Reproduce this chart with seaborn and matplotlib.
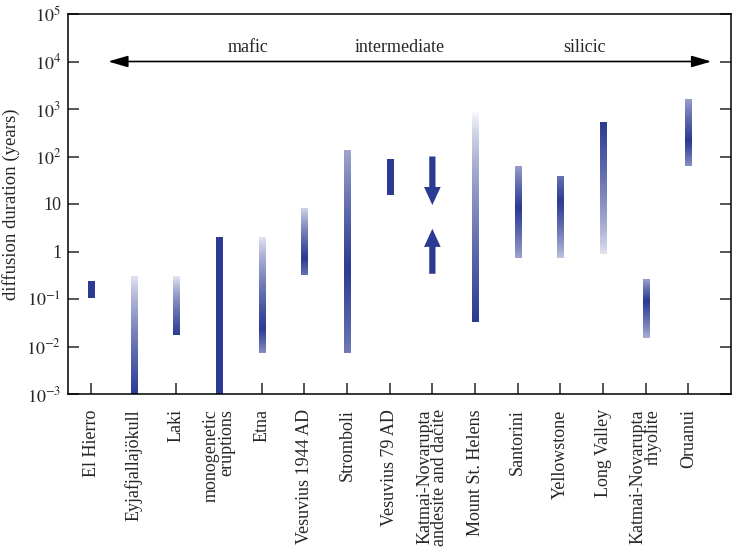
import numpy as np
import pandas as pd
import seaborn as sns
import matplotlib.pyplot as plt
from matplotlib.collections import LineCollection
from matplotlib.colors import to_rgb

# volcano / eruption categories (left to right)
volcanoes = [
    "El Hierro", "Eyjafjallajökull", "Laki", "monogenetic\neruptions", "Etna",
    "Vesuvius 1944 AD", "Stromboli", "Vesuvius 79 AD",
    "Katmai-Novarupta\nandesite and dacite", "Mount St. Helens", "Santorini",
    "Yellowstone", "Long Valley", "Katmai-Novarupta\nrhyolite", "Oruanui",
]
# diffusion duration range (years); nan = shown as arrows instead
dur_low = [0.11, 0.001, 0.018, 0.001, 0.0075, 0.34, 0.0075, 16, np.nan,
           0.035, 0.75, 0.75, 0.95, 0.016, 66]
dur_high = [0.24, 0.3, 0.3, 2.0, 2.0, 8.2, 135, 89, np.nan,
            870, 63, 39, 530, 0.26, 1600]
# where the bar is darkest, and shading at the two ends (0 = white, 1 = full)
dur_peak = [0.15, 0.001, 0.018, 0.03, 0.025, 0.76, 0.47, 40, np.nan,
            0.035, 8.7, 12, 530, 0.095, 223]
shade_low = [1, 1, 1, 1, 0.4, 0.6, 0.55, 1, np.nan,
             1, 0.3, 0.15, 0.05, 0.25, 0.4]
shade_high = [1, 0.05, 0.05, 1, 0.05, 0.1, 0.3, 1, np.nan,
              0.0, 0.35, 0.6, 0.95, 0.35, 0.35]
# Katmai-Novarupta andesite/dacite: upper bound arrow (down) and lower bound arrow (up)
katmai_down = (100, 9.5)
katmai_up = (0.34, 3.0)

df = pd.DataFrame({"volcano": volcanoes, "low": dur_low, "high": dur_high,
                   "peak": dur_peak, "s_low": shade_low, "s_high": shade_high})

sns.set_theme(style="ticks")
plt.rcParams["font.family"] = ["Liberation Serif", "DejaVu Serif"]
plt.rcParams["mathtext.fontset"] = "stix"

dark = np.array(to_rgb("#2b3a92"))
white = np.ones(3)

fig = plt.figure(figsize=(7.33, 5.55), dpi=100)
ax = fig.add_axes([68 / 733, 1 - 394 / 555, 663 / 733, 380 / 555])
ax.set_yscale("log")
ax.set_ylim(1e-3, 1e5)
ax.set_xlim(-0.54, 15.0)

n = 120
for i, row in df.iterrows():
    if np.isnan(row["low"]):
        continue
    lo, hi, pk = np.log10(row["low"]), np.log10(row["high"]), np.log10(row["peak"])
    edges = np.linspace(lo, hi, n + 1)
    step = edges[1] - edges[0]
    mids = 0.5 * (edges[:-1] + edges[1:])
    t = np.interp(mids, [lo, pk, hi], [row["s_low"], 1.0, row["s_high"]]) ** 0.65
    cols = white[None, :] * (1 - t[:, None]) + dark[None, :] * t[:, None]
    segs = [[(i, 10 ** a), (i, 10 ** min(b + 0.5 * step, hi))]
            for a, b in zip(edges[:-1], edges[1:])]
    ax.add_collection(LineCollection(segs, colors=cols, linewidths=5.0,
                                     capstyle="butt", antialiaseds=False))

k = volcanoes.index("Katmai-Novarupta\nandesite and dacite")
arrow_style = "simple,head_length=1.3,head_width=1.2,tail_width=0.45"
for start, end in (katmai_down, katmai_up):
    ax.annotate("", xy=(k, end), xytext=(k, start),
                arrowprops=dict(arrowstyle=arrow_style, color=dark, lw=0,
                                mutation_scale=10, shrinkA=0, shrinkB=0))

# composition arrow across the top
ax.annotate("", xy=(14.54, 1e4), xytext=(0.4, 1e4),
            arrowprops=dict(arrowstyle="<|-|>,head_length=1.2,head_width=0.35",
                            color="black", lw=1.2, mutation_scale=10,
                            shrinkA=0, shrinkB=0))
for x, lab in [(3.68, "mafic"), (7.24, "intermediate"), (11.57, "silicic")]:
    ax.text(x, 1.6e4, lab, ha="center", va="baseline", fontsize=13)

yt = [1e-3, 1e-2, 1e-1, 1, 10, 1e2, 1e3, 1e4, 1e5]
ylabels = [r"$10^{-3}$", r"$10^{-2}$", r"$10^{-1}$", "1", "10",
           r"$10^{2}$", r"$10^{3}$", r"$10^{4}$", r"$10^{5}$"]
ax.set_yticks(yt)
ax.set_yticklabels(ylabels)
ax.yaxis.set_minor_locator(plt.NullLocator())
ax.set_xticks(range(len(volcanoes)))
ax.set_xticklabels(volcanoes, rotation=90, va="top", ha="center", ma="right",
                   linespacing=0.85)
ax.tick_params(axis="y", direction="in", length=8, width=1.1, labelsize=13,
               pad=5, right=True)
ax.tick_params(axis="x", direction="in", length=8, width=1.1, labelsize=13,
               pad=11, top=False)
for s in ax.spines.values():
    s.set_linewidth(1.1)
    s.set_color("black")
ax.set_ylabel("diffusion duration (years)", fontsize=13.5)
ax.yaxis.set_label_coords(-0.073, 0.5)

fig.savefig("out.png", dpi=100)
